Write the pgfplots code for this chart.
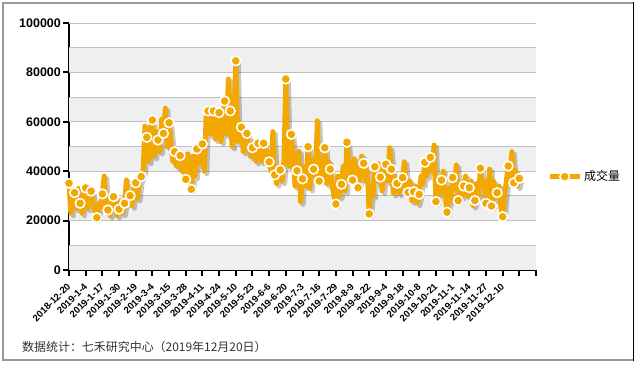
\documentclass[border=0pt]{standalone}
\usepackage{pgfplots}
\pgfplotsset{compat=1.18}
\usepackage{pgfplotstable}
\usepackage{fontspec}
\setmainfont{Liberation Sans}
\newfontfamily\cjk{Noto Sans CJK SC}
\definecolor{lineor}{RGB}{242,168,0}
\definecolor{band}{RGB}{239,239,239}
\definecolor{gridc}{RGB}{192,192,192}

\pgfplotstableread[row sep=\\]{
i v\\
0 35100\\ 1 23000\\ 2 30000\\ 3 31300\\ 4 25000\\ 5 33000\\ 6 27000\\ 7 23000\\ 8 29000\\ 9 33200\\
10 25000\\ 11 28000\\ 12 31900\\ 13 27000\\ 14 24000\\ 15 21200\\ 16 27000\\ 17 25000\\ 18 30800\\ 19 38000\\
20 27000\\ 21 24300\\ 22 22000\\ 23 28000\\ 24 29700\\ 25 26000\\ 26 22000\\ 27 24600\\ 28 28000\\ 29 23000\\
30 27000\\ 31 36400\\ 32 28000\\ 33 30100\\ 34 26000\\ 35 33000\\ 36 35300\\ 37 29000\\ 38 36000\\ 39 37800\\
40 40000\\ 41 58300\\ 42 53700\\ 43 44000\\ 44 58000\\ 45 60700\\ 46 46000\\ 47 56000\\ 48 52600\\ 49 48000\\
50 61000\\ 51 55300\\ 52 65500\\ 53 50000\\ 54 59600\\ 55 52000\\ 56 44000\\ 57 47900\\ 58 42000\\ 59 48000\\
60 46300\\ 61 40000\\ 62 44000\\ 63 36700\\ 64 47000\\ 65 40000\\ 66 32700\\ 67 46000\\ 68 38000\\ 69 49000\\
70 43000\\ 71 48000\\ 72 51000\\ 73 40000\\ 74 62000\\ 75 64400\\ 76 55000\\ 77 62000\\ 78 64400\\ 79 53000\\
80 60000\\ 81 63700\\ 82 52000\\ 83 60000\\ 84 68400\\ 85 55000\\ 86 77300\\ 87 64400\\ 88 50000\\ 89 60000\\
90 84700\\ 91 52000\\ 92 60000\\ 93 57800\\ 94 48000\\ 95 54000\\ 96 55300\\ 97 50000\\ 98 46000\\ 99 49500\\
100 52000\\ 101 44000\\ 102 51300\\ 103 48000\\ 104 44000\\ 105 51300\\ 106 44000\\ 107 48000\\ 108 43800\\ 109 40000\\
110 56000\\ 111 38500\\ 112 35000\\ 113 42000\\ 114 40500\\ 115 36000\\ 116 44000\\ 117 77300\\ 118 48000\\ 119 42000\\
120 54900\\ 121 46000\\ 122 34000\\ 123 40200\\ 124 48000\\ 125 27600\\ 126 36900\\ 127 42000\\ 128 34000\\ 129 49900\\
130 33000\\ 131 45000\\ 132 40800\\ 133 38000\\ 134 60400\\ 135 36000\\ 136 43000\\ 137 38000\\ 138 49500\\ 139 35000\\
140 44000\\ 141 40800\\ 142 34000\\ 143 30000\\ 144 26700\\ 145 38000\\ 146 30000\\ 147 34700\\ 148 42000\\ 149 32000\\
150 51700\\ 151 44000\\ 152 40000\\ 153 36400\\ 154 45000\\ 155 39000\\ 156 33300\\ 157 38000\\ 158 46100\\ 159 43200\\
160 36000\\ 161 40000\\ 162 22700\\ 163 34000\\ 164 30000\\ 165 41800\\ 166 36000\\ 167 43000\\ 168 37600\\ 169 32000\\
170 38000\\ 171 42800\\ 172 36000\\ 173 49500\\ 174 40800\\ 175 31000\\ 176 38000\\ 177 35100\\ 178 31000\\ 179 33000\\
180 37400\\ 181 43800\\ 182 34000\\ 183 31400\\ 184 36000\\ 185 28000\\ 186 31700\\ 187 34000\\ 188 27100\\ 189 30600\\
190 38000\\ 191 35000\\ 192 43600\\ 193 38000\\ 194 41000\\ 195 45600\\ 196 40000\\ 197 50600\\ 198 27700\\ 199 34000\\
200 31000\\ 201 36400\\ 202 40000\\ 203 30000\\ 204 23400\\ 205 33000\\ 206 28000\\ 207 37400\\ 208 33000\\ 209 42500\\
210 28100\\ 211 35000\\ 212 30000\\ 213 34000\\ 214 38000\\ 215 30000\\ 216 33300\\ 217 36000\\ 218 26000\\ 219 28100\\
220 35000\\ 221 30000\\ 222 41200\\ 223 34000\\ 224 36000\\ 225 27000\\ 226 33000\\ 227 40800\\ 228 25900\\ 229 36000\\
230 29000\\ 231 31300\\ 232 34000\\ 233 26000\\ 234 21600\\ 235 30000\\ 236 36000\\ 237 42100\\ 238 38000\\ 239 47900\\
240 35300\\ 241 40000\\ 242 34000\\ 243 37100\\
}\data

\begin{document}
\begin{tikzpicture}
\useasboundingbox (0bp,0bp) rectangle (638bp,365bp);
\draw[gray!80, line width=2.2bp] (633bp,5bp) -- (3bp,5bp) -- (3bp,362bp) -- (633bp,362bp);
\draw[black, line width=1.2bp] (633.5bp,4bp) -- (633.5bp,363bp);
\begin{axis}[
  at={(69bp,95bp)}, anchor=south west,
  scale only axis, width=467bp, height=247bp,
  xmin=0, xmax=252, ymin=0, ymax=100000,
  clip=false,
  axis x line*=bottom, axis y line*=left,
  axis line style={black, line width=2bp, -},
  xtick={0,9,...,252},
  xticklabels={2018-12-20,2019-1-4,2019-1-17,2019-1-30,2019-2-19,2019-3-4,2019-3-15,2019-3-28,2019-4-11,2019-4-24,2019-5-10,2019-5-23,2019-6-6,2019-6-20,2019-7-3,2019-7-16,2019-7-29,2019-8-9,2019-8-22,2019-9-4,2019-9-18,2019-10-8,2019-10-21,2019-11-1,2019-11-14,2019-11-27,2019-12-10,{},{}},
  ytick={0,20000,...,100000},
  tick align=outside, major tick length=6bp,
  tick style={black, line width=2bp},
  xticklabel style={rotate=45, anchor=east, font=\bfseries\fontsize{9.6}{11}\selectfont, inner sep=0pt},
  xticklabel shift=9bp,
  yticklabel style={font=\bfseries\fontsize{12.5}{14}\selectfont, inner sep=2bp},
  scaled y ticks=false,
  yticklabel={\pgfmathprintnumber[fixed,1000 sep={},assume math mode=true]{\tick}},
  legend style={at={(1,0.378)}, anchor=west, draw=none, fill=none, xshift=8bp,
    font=\cjk\fontsize{12}{14}\selectfont},
  legend image code/.code={\draw[#1, mark repeat=2, mark phase=2] plot coordinates {(0bp,0bp) (15bp,0bp) (30bp,0bp)};},
]
\fill[band] (axis cs:0,0) rectangle (axis cs:252,10000);
\fill[band] (axis cs:0,20000) rectangle (axis cs:252,30000);
\fill[band] (axis cs:0,40000) rectangle (axis cs:252,50000);
\fill[band] (axis cs:0,60000) rectangle (axis cs:252,70000);
\fill[band] (axis cs:0,80000) rectangle (axis cs:252,90000);
\foreach \g in {10000,20000,30000,40000,50000,60000,70000,80000,90000,100000} {
  \edef\tmp{\noexpand\draw[gridc, line width=0.8bp] (axis cs:0,\g) -- (axis cs:252,\g);}\tmp
}
\addplot[black, opacity=0.22, line width=5bp, line join=round, xshift=2.5bp, yshift=-2.5bp, forget plot] table[x=i,y=v]{\data};
\addplot[lineor, line width=5bp, line join=round, mark=*, mark repeat=3, mark size=4.8bp,
  mark options={fill=lineor, draw=white, line width=1.6bp, solid}] table[x=i,y=v]{\data};
\addlegendentry{成交量}
\end{axis}
\node[anchor=west, inner sep=0pt, text=black!80, font=\cjk\fontsize{12}{14}\selectfont] at (22bp,18bp) {数据统计：七禾研究中心（2019年12月20日）};
\end{tikzpicture}
\end{document}
